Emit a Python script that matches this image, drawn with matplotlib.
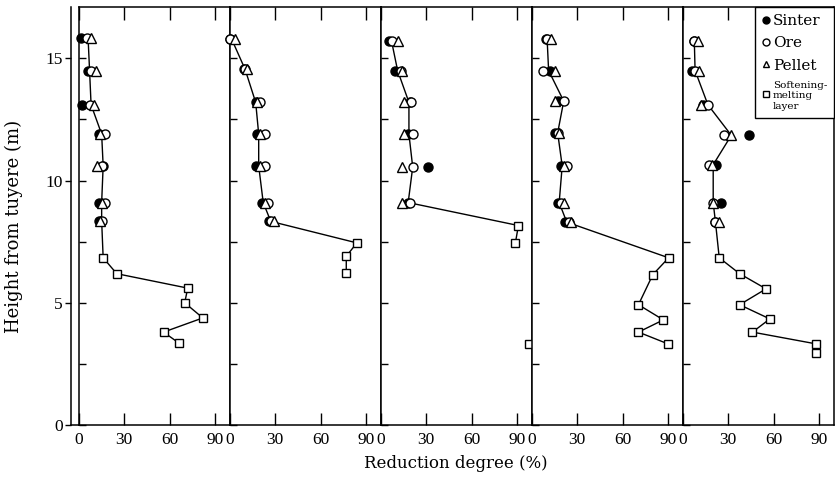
"""Reduction degree of burden vs height from tuyere, five probes."""
import numpy as np
import matplotlib; matplotlib.use("Agg")
import matplotlib.pyplot as plt
from matplotlib.lines import Line2D

plt.rcParams["font.family"] = ["Liberation Serif", "DejaVu Serif"]

# ── data ────────────────────────────────────────────────────────────
HEIGHTS = [
    [15.85, 14.5, 13.1, 11.9, 10.6, 9.1, 8.35],
    [15.8, 14.55, 13.2, 11.9, 10.6, 9.1, 8.33],
    [15.7, 14.5, 13.2, 11.9, 10.55, 9.1],
    [15.8, 14.5, 13.25, 11.95, 10.6, 9.1, 8.3],
    [15.7, 14.5, 13.1, 11.85, 10.65, 9.1, 8.3],
]
SINTER = [
    [1, 6, 2, 13, 16, 13, 13.5],
    [0, 9, 17, 18, 17.5, 21, 26],
    [5, 9, 19, 18, 31, 18],
    [9, 12, 17, 15.5, 19.5, 17, 22],
    [7.5, 6, 13.5, 44, 22, 25, 21],
]
ORE = [
    [5, 8, 7, 17, 15, 17, 15.5],
    [0, 10, 20, 23, 23, 25, 27],
    [7, 13, 20, 21, 21, 19],
    [10, 7.5, 21, 17.5, 23, 19, 24.5],
    [7.5, 8, 16.5, 27, 17.5, 20, 21.5],
]
PELLET = [
    [8, 11, 10, 14, 12, 15, 14],
    [3, 11, 18, 20, 20, 23, 29],
    [11, 14, 15, 15, 14, 14],
    [12.5, 15, 15, 18, 21, 21, 26],
    [10, 10.5, 12, 32, 19.5, 20, 24],
]
# trend line through the burden points
LINE_X = [
    [6, 7, 8, 15, 16, 15, 15],
    [1, 10, 17, 19, 19, 22, 27],
    [7, 11, 18.5, 18.5, 21, 18],
    [10, 11, 21, 17, 20, 18, 23],
    [7.5, 8, 16.5, 32, 20, 20, 21.5],
]
# softening-melting layer
SQ_X = [
    [16, 25, 72, 70, 82, 56, 66],
    [84, 77, 77],
    [91, 89, 98],
    [90.5, 80, 70.5, 87, 70.5, 90],
    [24, 37.5, 55, 37.5, 57.5, 46, 88, 88],
]
SQ_Y = [
    [6.84, 6.19, 5.6, 5.0, 4.38, 3.8, 3.36],
    [7.45, 6.9, 6.22],
    [8.16, 7.45, 3.32],
    [6.84, 6.15, 4.92, 4.3, 3.8, 3.32],
    [6.84, 6.19, 5.57, 4.92, 4.34, 3.8, 3.32, 2.95],
]
SQ_JOINED = [7, 3, 2, 6, 7]

X_TICKS = [0, 30, 60, 90]
Y_TICKS = [0, 5, 10, 15]

# ── figure ──────────────────────────────────────────────────────────
fig = plt.figure(figsize=(8.35, 4.8), dpi=100)
L, R = 79 / 835, 834 / 835
B, T = 1 - 425 / 480, 1 - 7 / 480
W = (R - L) / 5
YMAX = 17.1

axes = [fig.add_axes([L + i * W, B, W, T - B]) for i in range(5)]
for i, ax in enumerate(axes):
    n = SQ_JOINED[i]
    ax.plot(LINE_X[i] + SQ_X[i][:n], HEIGHTS[i] + SQ_Y[i][:n],
            color="k", lw=1.0, zorder=2)
    ax.plot(SQ_X[i], SQ_Y[i], "s", ms=6, mfc="white", mec="k", mew=1.0,
            zorder=3, clip_on=False)
    ax.plot(SINTER[i], HEIGHTS[i], "o", ms=6.5, color="k", zorder=4, clip_on=False)
    ax.plot(ORE[i], HEIGHTS[i], "o", ms=6.5, mfc="white", mec="k", mew=1.0,
            zorder=5, clip_on=False)
    ax.plot(PELLET[i], HEIGHTS[i], "^", ms=6.5, mfc="white", mec="k", mew=1.0,
            zorder=6, clip_on=False)
    ax.set_xlim(0, 100)
    ax.set_ylim(0, YMAX)
    ax.set_xticks(X_TICKS)
    ax.set_xticklabels([str(v) for v in X_TICKS])
    ax.set_yticks(np.arange(0, 17.5, 2.5))
    ax.set_yticklabels([])
    ax.tick_params(axis="x", direction="in", top=True, length=9, width=1,
                   labelsize=12.5, pad=5)
    ax.tick_params(axis="y", direction="in", length=5, width=1)
    for sp in ax.spines.values():
        sp.set_linewidth(1.1)

# outer height axis left of the first panel
ay = fig.add_axes([71 / 835, B, 8 / 835, T - B])
ay.patch.set_visible(False)
ay.spines["top"].set_visible(False)
ay.spines["right"].set_visible(False)
ay.spines["left"].set_linewidth(1.1)
ay.spines["bottom"].set_linewidth(1.1)
ay.set_ylim(0, YMAX)
ay.set_xlim(0, 1)
ay.set_xticks([])
ay.set_yticks(Y_TICKS)
ay.set_yticklabels([str(v) for v in Y_TICKS])
ay.tick_params(axis="y", direction="out", length=4, width=1, labelsize=12.5, pad=2)

fig.text(14 / 835, 1 - 226 / 480, "Height from tuyere (m)", rotation=90,
         ha="center", va="center", fontsize=13, family="DejaVu Serif")
fig.text(456 / 835, 1 - 463 / 480, "Reduction degree (%)",
         ha="center", va="center", fontsize=12, family="DejaVu Serif")

handles = [
    Line2D([], [], ls="", marker="o", ms=5, color="k"),
    Line2D([], [], ls="", marker="o", ms=5, mfc="white", mec="k"),
    Line2D([], [], ls="", marker="^", ms=5, mfc="white", mec="k"),
    Line2D([], [], ls="", marker="s", ms=5, mfc="white", mec="k"),
]
leg = axes[4].legend(handles, ["Sinter", "Ore", "Pellet", "Softening-\nmelting\nlayer"],
                     loc="upper right", bbox_to_anchor=(1, 1), borderaxespad=0,
                     fancybox=False, edgecolor="k", framealpha=1,
                     handlelength=0.5, handletextpad=0.2, labelspacing=0.55,
                     borderpad=0.45, prop={"family": "DejaVu Serif", "size": 11})
leg.get_frame().set_linewidth(1.0)
leg.get_texts()[3].set_fontsize(7.5)

fig.savefig("out.png", dpi=100, facecolor="white")
plt.close(fig)
